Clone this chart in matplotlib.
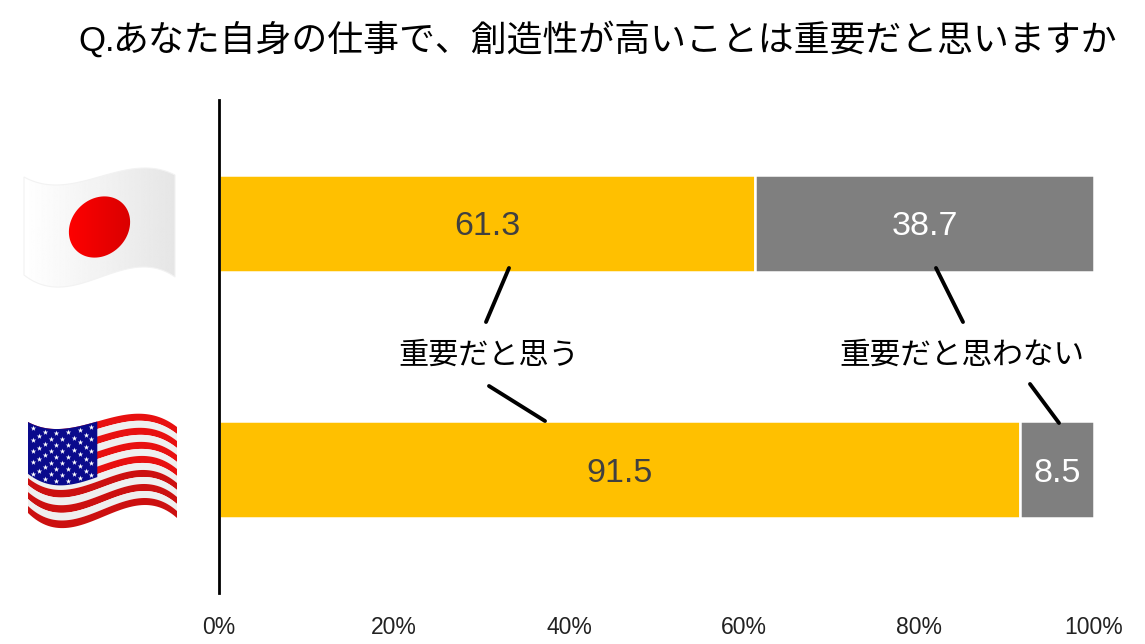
import numpy as np
import matplotlib
matplotlib.use("Agg")
import matplotlib.pyplot as plt
from matplotlib.patches import Polygon

categories = ["Japan", "USA"]
important = [61.3, 91.5]
not_important = [38.7, 8.5]
series_labels = ["重要だと思う", "重要だと思わない"]
title = "Q.あなた自身の仕事で、創造性が高いことは重要だと思いますか"
ticks = [0, 20, 40, 60, 80, 100]

W, H = 1145, 644
NARROW = "Liberation Sans"
JP = "Noto Sans CJK JP"

fig = plt.figure(figsize=(W / 100, H / 100), dpi=100)
ax = fig.add_axes([219 / W, 1 - 593 / H, (1094 - 219) / W, (593 - 100) / H])
y = np.arange(len(categories))
ax.barh(y, important, height=0.395, color="#FFC000", edgecolor="white", linewidth=1.8)
ax.barh(y, not_important, left=important, height=0.395, color="#7F7F7F", edgecolor="white", linewidth=1.8)
ax.set_xlim(0, 100)
ax.set_ylim(1.5, -0.5)
ax.set_yticks([])
ax.set_xticks(ticks)
ax.set_xticklabels([f"{t}%" for t in ticks], fontsize=16.5, family=NARROW, color="#222222")
ax.tick_params(axis="x", length=0, pad=16.5)
for s in ("top", "right", "bottom"):
    ax.spines[s].set_visible(False)
ax.spines["left"].set_linewidth(2)
ax.spines["left"].set_color("black")

for i in y:
    ax.annotate(f"{important[i]:.1f}", (important[i] / 2, i), xytext=(0, -2.5), textcoords="offset points",
                ha="center", va="center", fontsize=24.5, family=NARROW, color="#404040")
    ax.annotate(f"{not_important[i]:.1f}", (important[i] + not_important[i] / 2, i), xytext=(0, -2.5),
                textcoords="offset points", ha="center", va="center", fontsize=24.5, family=NARROW, color="white")

# overlay in image pixels: title, callouts, flags
ov = fig.add_axes([0, 0, 1, 1], facecolor="none")
ov.set_xlim(0, W)
ov.set_ylim(H, 0)
ov.axis("off")

ov.text(78, 41, "Q.", ha="left", va="center", fontsize=25, family="Liberation Sans", color="black")
ov.text(112, 41, title[2:], ha="left", va="center", fontsize=25.85, family=JP, color="black")
ov.text(489, 355, series_labels[0], ha="center", va="center", fontsize=21.7, family=JP, color="black")
ov.text(962, 355, series_labels[1], ha="center", va="center", fontsize=22.1, family=JP, color="black")

leaders = [((509, 268), (486, 322)), ((936, 268), (963, 322)),
           ((489, 386), (545, 421)), ((1030, 384), (1059, 423))]
for a, b in leaders:
    ov.plot([a[0], b[0]], [a[1], b[1]], color="black", lw=2.8, solid_capstyle="round")


def make_warp(xl, xr, top, bot):
    knots = [xl, xl + 31, 145, xr]
    ft = np.poly1d(np.polyfit(knots, top, 3))
    fb = np.poly1d(np.polyfit(knots, bot, 3))

    def warp(u, v):
        xx = xl + np.asarray(u) * (xr - xl)
        return xx, ft(xx) + np.asarray(v) * (fb(xx) - ft(xx))
    return warp


def band(warp, u0, u1, v0, v1, **kw):
    u = np.linspace(u0, u1, 60)
    x1, y1 = warp(u, np.full_like(u, v0))
    x2, y2 = warp(u[::-1], np.full_like(u, v1))
    return ov.add_patch(Polygon(np.c_[np.r_[x1, x2], np.r_[y1, y2]], closed=True, **kw))


# Japan flag
jp = make_warp(24, 175, [177, 185, 168, 175], [275, 287, 267, 277])
outline = band(jp, 0, 1, 0, 1, facecolor="none", lw=0)
band(jp, 0, 1, 0, 1, facecolor="none", edgecolor="#F2F2F2", lw=0.8, zorder=2.5)
grad = np.linspace(1, 0.9, 256)[None, :]
im = ov.imshow(grad, extent=[24, 175, 290, 165], cmap="gray", vmin=0, vmax=1, aspect="auto", zorder=2)
im.set_clip_path(outline)
t = np.linspace(0, 2 * np.pi, 120)
a = np.deg2rad(-45)
ex = 99.5 + 33 * np.cos(t) * np.cos(a) - 28 * np.sin(t) * np.sin(a)
ey = 227 + 33 * np.cos(t) * np.sin(a) + 28 * np.sin(t) * np.cos(a)
disc = Polygon(np.c_[ex, ey], closed=True, facecolor="none", lw=0)
ov.add_patch(disc)
rgrad = np.stack([np.linspace(1, 0.85, 64), np.zeros(64), np.zeros(64)], axis=-1)[None, :, :]
im2 = ov.imshow(rgrad, extent=[66, 133, 264, 190], aspect="auto", zorder=3)
im2.set_clip_path(disc)

# USA flag
us = make_warp(28, 177, [422, 429, 414, 427], [513, 528, 505, 518])
n = 13
for k in range(n):
    col = "#EFEFEF" if k % 2 else ("#E81010" if k < 7 else "#CC1010")
    band(us, 0, 1, k / n, (k + 1) / n, facecolor=col, lw=0, zorder=2)
band(us, 0, 0.465, 0, 7.4 / n, facecolor="#0A0A8C", lw=0, zorder=3)
su, sv = [], []
for r in range(9):
    cnt = 6 if r % 2 == 0 else 5
    for c in range(cnt):
        su.append(0.035 + 0.39 * (c + (0 if r % 2 == 0 else 0.5)) / 5)
        sv.append((r + 0.7) / 9.4 * 7.4 / n)
sx, sy = us(np.array(su), np.array(sv))
ov.scatter(sx, sy, s=17, color="white", marker="*", linewidths=0, zorder=4)

ov.set_xlim(0, W)
ov.set_ylim(H, 0)
ov.set_aspect("auto")
fig.savefig("out.png", dpi=100)
